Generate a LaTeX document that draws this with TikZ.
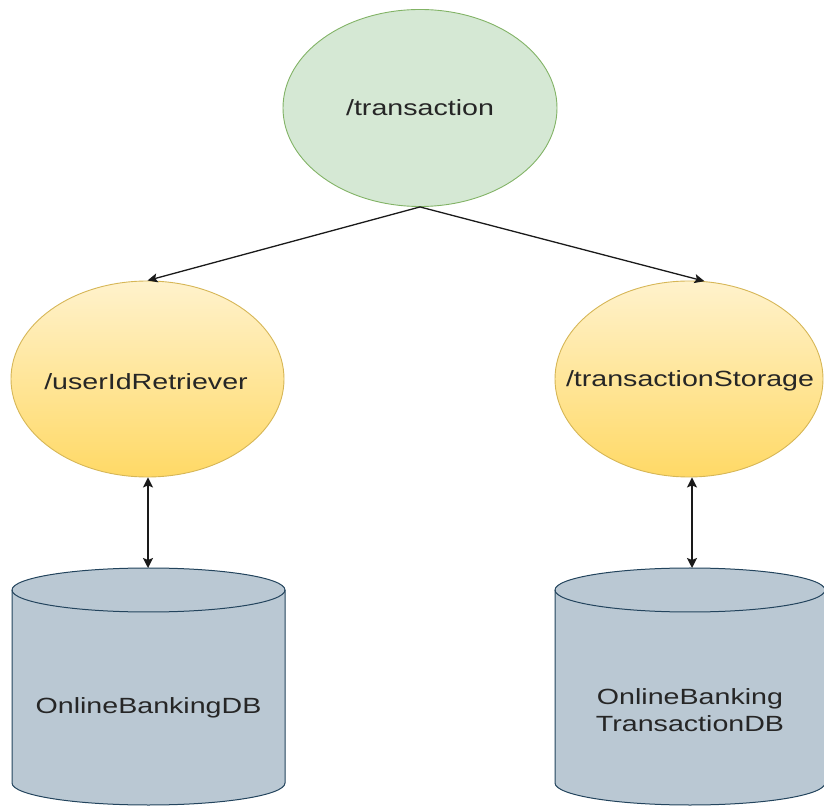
\documentclass[tikz,border=0pt]{standalone}
\usepackage{fontspec}
\newfontfamily\lab[FakeStretch=1.3]{Liberation Sans}
\usetikzlibrary{shapes.geometric,arrows.meta}
\definecolor{gfill}{HTML}{D5E8D4}
\definecolor{gline}{HTML}{82B366}
\definecolor{ytop}{HTML}{FFF2CC}
\definecolor{ybot}{HTML}{FFD966}
\definecolor{yline}{HTML}{D6B656}
\definecolor{cfill}{HTML}{BAC8D3}
\definecolor{cline}{HTML}{23445D}
\definecolor{txt}{HTML}{262626}
\definecolor{conncol}{HTML}{1A1A1A}
\begin{document}
\begin{tikzpicture}[x=1pt,y=1pt,
  lbl/.style={font=\lab\fontsize{22}{27}\selectfont, text=txt},
  mainsvc/.style={ellipse, draw=gline, fill=gfill, line width=0.9pt, minimum width=274pt, minimum height=197pt, inner sep=0pt},
  svc/.style={ellipse, draw=yline, line width=0.9pt, top color=ytop, bottom color=ybot, minimum height=196pt, inner sep=0pt},
  cylbody/.style={draw=cline, fill=cfill, line width=1pt},
  cylfront/.style={draw=cline, line width=1pt},
  conn/.style={draw=conncol, line width=1.3pt, -{Stealth[length=10pt,width=9pt,inset=2pt]}},
  dconn/.style={draw=conncol, line width=1.6pt, {Stealth[length=10pt,width=10pt,inset=2pt]}-{Stealth[length=10pt,width=10pt,inset=2pt]}}
]
\useasboundingbox (0,0) rectangle (824,806);

% top service
\node[mainsvc] (top) at (420,698) {};
\node[lbl] (topt) at (top.center) {/transaction};

% second level services
\node[svc, minimum width=273pt] (ls) at (147.5,427) {};
\node[lbl] (lst) at (146,424) {/userIdRetriever};
\node[svc, minimum width=268pt] (rs) at (689,427) {};
\node[lbl] (rst) at (690,425) {/transactionStorage};

% left cylinder
\path[cylbody] (12,216) -- (12,23) arc[start angle=180,end angle=360,x radius=136.5,y radius=22]
  -- (285,216) arc[start angle=0,end angle=180,x radius=136.5,y radius=22] -- cycle;
\path[cylfront] (12,216) arc[start angle=180,end angle=360,x radius=136.5,y radius=22];
\coordinate (ldbtop) at (148,238);
\node[lbl, align=center] (ldb) at (148.5,98) {OnlineBankingDB};

% right cylinder
\path[cylbody] (555,216) -- (555,23) arc[start angle=180,end angle=360,x radius=135,y radius=22]
  -- (825,216) arc[start angle=0,end angle=180,x radius=135,y radius=22] -- cycle;
\path[cylfront] (555,216) arc[start angle=180,end angle=360,x radius=135,y radius=22];
\coordinate (rdbtop) at (692,238);
\node[lbl, align=center] (rdb) at (690,96) {OnlineBanking\\TransactionDB};

% connectors
\draw[conn] (top.south) -- (ls.north);
\draw[conn] (top.south) -- (rs.81);
\draw[dconn] (ls.south -| ldbtop) -- (ldbtop);
\draw[dconn] (rs.south -| rdbtop) -- (rdbtop);
\end{tikzpicture}
\end{document}
